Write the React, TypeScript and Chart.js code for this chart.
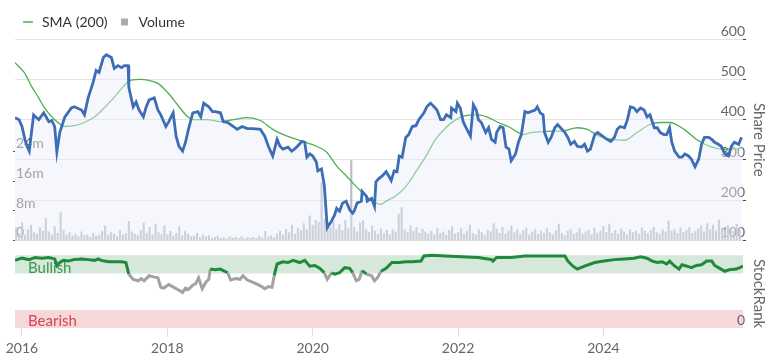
import { useEffect, useRef } from 'react';
import { Chart, registerables } from 'chart.js';

Chart.register(...registerables);
Chart.defaults.font.family = 'Lato';

const X_MIN = 2015.904;
const X_MAX = 2025.92;
const YEAR_TICKS = [2016, 2018, 2020, 2022, 2024];
const PRICE_TICKS = [100, 200, 300, 400, 500, 600];
const VOLUME_TICKS = [0, 8, 16, 24];
const RANK_TICKS = [0];

const priceDates = [
  2015.904, 2015.96, 2016.0, 2016.04, 2016.07, 2016.10, 2016.16, 2016.23, 2016.30, 2016.37,
  2016.41, 2016.45, 2016.48, 2016.52, 2016.59, 2016.68, 2016.72, 2016.82, 2016.86, 2016.91,
  2016.98, 2017.02, 2017.06, 2017.12, 2017.16, 2017.23, 2017.27, 2017.32, 2017.37, 2017.41,
  2017.46, 2017.47, 2017.53, 2017.57, 2017.61, 2017.67, 2017.71, 2017.75, 2017.82, 2017.87,
  2017.91, 2017.98, 2018.02, 2018.08, 2018.12, 2018.16, 2018.21, 2018.25, 2018.29, 2018.35,
  2018.42, 2018.46, 2018.50, 2018.57, 2018.62, 2018.66, 2018.73, 2018.77, 2018.83, 2018.91,
  2018.96, 2019.03, 2019.10, 2019.18, 2019.28, 2019.34, 2019.39, 2019.45, 2019.51, 2019.55,
  2019.59, 2019.66, 2019.71, 2019.75, 2019.79, 2019.85, 2019.89, 2019.92, 2019.96, 2020.00,
  2020.05, 2020.07, 2020.12, 2020.16, 2020.20, 2020.26, 2020.30, 2020.33, 2020.37, 2020.41,
  2020.46, 2020.51, 2020.55, 2020.57, 2020.61, 2020.67, 2020.68, 2020.74, 2020.75, 2020.81,
  2020.85, 2020.87, 2020.91, 2020.96, 2021.01, 2021.05, 2021.08, 2021.12, 2021.16, 2021.19,
  2021.23, 2021.28, 2021.32, 2021.37, 2021.42, 2021.46, 2021.53, 2021.57, 2021.62, 2021.67,
  2021.71, 2021.76, 2021.80, 2021.84, 2021.90, 2021.91, 2021.97, 2021.99, 2022.03, 2022.07,
  2022.11, 2022.17, 2022.21, 2022.25, 2022.28, 2022.32, 2022.38, 2022.42, 2022.46, 2022.51,
  2022.53, 2022.58, 2022.62, 2022.66, 2022.70, 2022.73, 2022.79, 2022.83, 2022.87, 2022.92,
  2022.96, 2023.00, 2023.06, 2023.09, 2023.13, 2023.17, 2023.19, 2023.24, 2023.28, 2023.33,
  2023.37, 2023.41, 2023.47, 2023.51, 2023.55, 2023.60, 2023.64, 2023.70, 2023.74, 2023.78,
  2023.82, 2023.88, 2023.92, 2023.96, 2024.01, 2024.05, 2024.10, 2024.15, 2024.19, 2024.23,
  2024.29, 2024.33, 2024.37, 2024.42, 2024.46, 2024.51, 2024.56, 2024.60, 2024.64, 2024.70,
  2024.74, 2024.78, 2024.83, 2024.87, 2024.91, 2024.94, 2024.98, 2025.04, 2025.08, 2025.12,
  2025.17, 2025.21, 2025.26, 2025.31, 2025.35, 2025.39, 2025.45, 2025.49, 2025.53, 2025.58,
  2025.62, 2025.67, 2025.72, 2025.76, 2025.80, 2025.86, 2025.90,
];
const priceValues = [
  405, 400, 383, 351, 334, 322, 412, 400, 417, 395,
  398, 383, 320, 368, 407, 429, 432, 424, 412, 454,
  493, 522, 517, 554, 561, 554, 527, 534, 529, 534,
  534, 480, 432, 444, 424, 407, 432, 449, 454, 424,
  412, 383, 395, 417, 359, 334, 322, 344, 376, 417,
  420, 407, 441, 432, 420, 420, 417, 395, 393, 383,
  376, 383, 378, 378, 376, 359, 334, 310, 351, 334,
  327, 332, 322, 327, 334, 346, 344, 307, 315, 310,
  295, 273, 278, 237, 132, 149, 163, 180, 173, 193,
  198, 176, 168, 173, 193, 198, 222, 210, 198, 205,
  185, 246, 254, 261, 271, 259, 249, 273, 271, 310,
  307, 356, 363, 383, 385, 400, 417, 432, 441, 432,
  424, 400, 400, 412, 405, 429, 420, 441, 429, 395,
  380, 359, 437, 424, 400, 393, 368, 380, 351, 344,
  368, 383, 380, 332, 327, 298, 315, 344, 363, 420,
  417, 420, 424, 432, 417, 412, 368, 344, 356, 380,
  388, 380, 368, 356, 339, 346, 334, 332, 339, 322,
  327, 363, 368, 363, 356, 351, 346, 356, 376, 383,
  380, 400, 432, 429, 420, 429, 424, 407, 412, 380,
  380, 368, 363, 363, 380, 344, 322, 307, 307, 315,
  310, 302, 283, 302, 339, 356, 356, 351, 344, 339,
  334, 315, 310, 334, 344, 339, 356,
];

const smaDates = [
  2015.904, 2016.03, 2016.14, 2016.23, 2016.31, 2016.45, 2016.59, 2016.72, 2016.86, 2017.00,
  2017.13, 2017.27, 2017.41, 2017.50, 2017.64, 2017.73, 2017.87, 2018.01, 2018.14, 2018.28,
  2018.36, 2018.55, 2018.73, 2018.91, 2019.10, 2019.28, 2019.45, 2019.65, 2019.86, 2020.05,
  2020.19, 2020.33, 2020.46, 2020.60, 2020.74, 2020.85, 2020.94, 2021.01, 2021.15, 2021.28,
  2021.42, 2021.56, 2021.69, 2021.83, 2021.97, 2022.10, 2022.28, 2022.42, 2022.55, 2022.69,
  2022.83, 2022.89, 2023.00, 2023.24, 2023.47, 2023.64, 2023.78, 2023.92, 2024.10, 2024.29,
  2024.46, 2024.64, 2024.78, 2024.91, 2025.11, 2025.28, 2025.46, 2025.65, 2025.83, 2025.90,
];
const smaValues = [
  541, 517, 480, 454, 429, 400, 383, 385, 393, 407,
  429, 456, 485, 498, 500, 498, 490, 466, 437, 407,
  400, 400, 395, 400, 405, 398, 376, 359, 346, 334,
  320, 285, 261, 234, 210, 195, 190, 198, 212, 234,
  271, 310, 351, 380, 400, 410, 412, 405, 393, 383,
  368, 363, 368, 371, 373, 380, 376, 361, 351, 349,
  368, 388, 393, 393, 376, 351, 334, 327, 327, 332,
];

const rankDates = [
  2015.904, 2016.00, 2016.10, 2016.18, 2016.27, 2016.37, 2016.45, 2016.48, 2016.52, 2016.57,
  2016.64, 2016.71, 2016.82, 2016.91, 2017.00, 2017.05, 2017.09, 2017.19, 2017.27, 2017.37,
  2017.43, 2017.47, 2017.53, 2017.60, 2017.64, 2017.68, 2017.75, 2017.82, 2017.87, 2017.91,
  2017.95, 2018.02, 2018.09, 2018.16, 2018.21, 2018.25, 2018.29, 2018.35, 2018.39, 2018.43,
  2018.48, 2018.53, 2018.57, 2018.59, 2018.66, 2018.73, 2018.77, 2018.83, 2018.87, 2018.94,
  2019.00, 2019.04, 2019.10, 2019.17, 2019.24, 2019.30, 2019.34, 2019.39, 2019.44, 2019.47,
  2019.51, 2019.59, 2019.66, 2019.73, 2019.82, 2019.89, 2019.96, 2020.03, 2020.10, 2020.16,
  2020.20, 2020.26, 2020.30, 2020.37, 2020.44, 2020.51, 2020.55, 2020.60, 2020.64, 2020.68,
  2020.74, 2020.81, 2020.85, 2020.89, 2020.94, 2021.01, 2021.09, 2021.19, 2021.28, 2021.37,
  2021.49, 2021.53, 2021.64, 2021.83, 2022.05, 2022.28, 2022.46, 2022.48, 2022.53, 2022.73,
  2022.92, 2023.19, 2023.47, 2023.51, 2023.58, 2023.64, 2023.74, 2023.88, 2024.01, 2024.15,
  2024.29, 2024.42, 2024.51, 2024.60, 2024.67, 2024.74, 2024.81, 2024.87, 2024.91, 2024.97,
  2025.04, 2025.08, 2025.15, 2025.21, 2025.28, 2025.35, 2025.42, 2025.49, 2025.53, 2025.60,
  2025.67, 2025.73, 2025.83, 2025.92,
];
const rankValues = [
  93, 96, 94, 97, 96, 97, 95, 86, 90, 93,
  92, 94, 95, 94, 93, 95, 93, 91, 91, 91,
  90, 74, 67, 65, 68, 65, 72, 70, 69, 56,
  55, 60, 56, 52, 49, 55, 53, 59, 61, 69,
  54, 63, 67, 81, 80, 81, 79, 76, 66, 68,
  67, 72, 66, 63, 60, 57, 54, 57, 56, 72,
  88, 91, 90, 93, 90, 93, 85, 86, 82, 76,
  67, 76, 74, 76, 83, 82, 76, 65, 67, 79,
  74, 72, 65, 69, 78, 82, 90, 90, 91, 91,
  92, 99, 100, 99, 98, 97, 94, 92, 97, 97,
  99, 99, 99, 92, 85, 81, 85, 90, 92, 94,
  95, 96, 98, 96, 92, 90, 91, 88, 92, 86,
  81, 87, 85, 83, 86, 87, 92, 92, 86, 82,
  78, 80, 81, 85,
];

// volume in millions, roughly every 2 weeks from the start of the chart
const VOLUME_START = 2015.92;
const VOLUME_STEP = 0.0408;
const volumeValues = [
  3.5, 2.0, 4.8, 1.5, 3.0, 4.2, 2.2, 1.8, 3.5, 2.6,
  6.0, 2.4, 1.6, 3.8, 2.0, 7.5, 2.8, 1.5, 2.2, 1.2,
  1.8, 1.0, 2.4, 1.4, 1.6, 0.9, 2.0, 1.2, 1.5, 2.6,
  4.0, 1.5, 2.2, 1.8, 1.0, 2.8, 1.6, 2.0, 5.2, 2.4,
  1.8, 1.4, 2.8, 4.8, 2.0, 3.6, 1.5, 4.5, 2.2, 1.7,
  4.0, 1.6, 2.5, 1.2, 2.0, 3.8, 1.4, 2.6, 1.8, 1.0,
  1.2, 2.0, 0.8, 1.6, 1.0, 1.4, 0.7, 0.9, 1.2, 0.6,
  0.8, 0.5, 1.0, 0.7, 0.9, 0.6, 1.1, 0.5, 0.8, 0.6,
  0.9, 0.6, 1.2, 0.7, 2.5, 1.0, 1.4, 0.8, 1.8, 2.6,
  1.6, 3.0, 2.2, 4.2, 1.8, 3.4, 2.8, 4.6, 3.0, 6.7,
  4.2, 5.5, 5.0, 15.7, 5.8, 4.6, 3.5, 5.2, 3.0, 4.4,
  2.8, 5.5, 3.2, 21.6, 3.6, 2.4, 4.8, 5.4, 3.0, 2.2,
  4.0, 2.6, 1.8, 3.2, 2.0, 2.8, 1.6, 3.0, 2.4, 7.2,
  9.0, 3.0, 2.2, 4.0, 2.6, 3.6, 2.0, 3.2, 2.4, 1.8,
  2.6, 1.6, 3.4, 2.0, 2.4, 1.5, 2.8, 3.8, 1.8, 2.2,
  3.2, 1.8, 2.6, 4.2, 2.0, 1.6, 3.0, 2.2, 1.4, 2.8,
  2.4, 4.6, 3.2, 2.0, 3.6, 1.8, 2.6, 4.0, 2.2, 3.0,
  1.8, 2.8, 3.4, 1.6, 2.4, 3.0, 1.8, 2.6, 2.0, 3.2,
  2.2, 1.6, 2.8, 4.5, 2.0, 1.4, 2.6, 3.0, 1.8, 2.2,
  3.2, 1.8, 2.4, 2.8, 1.6, 3.4, 2.0, 2.6, 3.8, 2.2,
  4.5, 2.0, 2.8, 1.8, 3.2, 2.4, 1.6, 3.0, 2.2, 2.6,
  1.8, 3.4, 2.6, 2.0, 2.8, 3.6, 2.2, 1.8, 3.0, 2.4,
  5.3, 2.6, 3.0, 2.0, 3.4, 2.2, 2.8, 3.6, 2.0, 2.6,
  3.2, 4.0, 2.4, 4.6, 3.0, 4.2, 2.6, 5.6, 3.4, 2.8,
  4.0, 3.2, 2.6, 4.4, 3.0,
];

const BULL_MIN = 75;
const BEAR_MAX = 25;

const PRICE_COLOR = '#3c6db5';
const SMA_COLOR = '#4caf50';
const VOLUME_COLOR = 'rgba(170,170,178,0.8)';
const RANK_GREEN = '#1f8a3c';
const RANK_GREY = '#a2a2a2';
const BULL_BAND = '#d5e8da';
const BEAR_BAND = '#f6d7da';
const BULL_TEXT = '#3a9a4e';
const BEAR_TEXT = '#d8454f';
const AXIS_TEXT = '#666';

const bandLabels = {
  id: 'bandLabels',
  afterDatasetDraw(chart: any, args: any) {
    if (chart.data.datasets[args.index].label !== 'bearBand') return;
    const { ctx, chartArea, scales } = chart;
    const r = scales.rank;
    ctx.save();
    ctx.font = '15px Lato';
    ctx.textBaseline = 'middle';
    ctx.textAlign = 'left';
    ctx.fillStyle = BULL_TEXT;
    ctx.fillText('Bullish', chartArea.left + 13, r.getPixelForValue(82));
    ctx.fillStyle = BEAR_TEXT;
    ctx.fillText('Bearish', chartArea.left + 13, r.getPixelForValue(10));
    ctx.restore();
  },
};

export default function App() {
  const ref = useRef<HTMLCanvasElement | null>(null);

  useEffect(() => {
    if (!ref.current) return;
    const pricePts = priceDates.map((d, i) => ({ x: d, y: priceValues[i] }));
    const smaPts = smaDates.map((d, i) => ({ x: d, y: smaValues[i] }));
    const rankPts = rankDates.map((d, i) => ({ x: d, y: rankValues[i] }));
    const volPts = volumeValues.map((v, i) => ({ x: VOLUME_START + i * VOLUME_STEP, y: v }));

    const chart = new Chart(ref.current, {
      type: 'line',
      data: {
        datasets: [
          {
            label: 'Share Price',
            data: pricePts,
            yAxisID: 'price',
            borderColor: PRICE_COLOR,
            borderWidth: 2.8,
            pointRadius: 0,
            tension: 0,
            fill: 'start',
            backgroundColor: 'rgba(232,238,248,0.45)',
            order: 0,
          },
          {
            label: 'SMA (200)',
            data: smaPts,
            yAxisID: 'price',
            borderColor: SMA_COLOR,
            borderWidth: 1.3,
            pointRadius: 0,
            cubicInterpolationMode: 'monotone',
            fill: false,
            order: 1,
          },
          {
            type: 'bar',
            label: 'Volume',
            data: volPts,
            yAxisID: 'vol',
            backgroundColor: VOLUME_COLOR,
            barThickness: 1.5,
            order: 3,
          } as any,
          {
            label: 'StockRank',
            data: rankPts,
            yAxisID: 'rank',
            borderWidth: 3,
            pointRadius: 0,
            fill: false,
            borderColor: RANK_GREEN,
            segment: {
              borderColor: (c: any) =>
                (c.p0.parsed.y + c.p1.parsed.y) / 2 >= BULL_MIN ? RANK_GREEN : RANK_GREY,
            },
            order: 2,
          },
          {
            label: 'bullBand',
            data: [{ x: X_MIN, y: 100 }, { x: X_MAX, y: 100 }],
            yAxisID: 'rank',
            borderWidth: 0,
            pointRadius: 0,
            fill: { value: BULL_MIN },
            backgroundColor: BULL_BAND,
            order: 10,
          },
          {
            label: 'bearBand',
            data: [{ x: X_MIN, y: BEAR_MAX }, { x: X_MAX, y: BEAR_MAX }],
            yAxisID: 'rank',
            borderWidth: 0,
            pointRadius: 0,
            fill: { value: 0 },
            backgroundColor: BEAR_BAND,
            order: 9,
          },
        ],
      },
      options: {
        animation: false,
        responsive: true,
        maintainAspectRatio: false,
        layout: { padding: { left: 11, right: 0, top: 5, bottom: 0 } },
        plugins: {
          tooltip: { enabled: false },
          legend: {
            position: 'top',
            align: 'start',
            labels: {
              usePointStyle: true,
              boxWidth: 14,
              boxHeight: 7,
              padding: 10,
              color: '#333',
              font: { size: 14 },
              generateLabels: () => [
                {
                  text: 'SMA (200)',
                  pointStyle: 'line',
                  strokeStyle: SMA_COLOR,
                  fillStyle: SMA_COLOR,
                  lineWidth: 1.5,
                  fontColor: '#333',
                  hidden: false,
                  datasetIndex: 1,
                },
                {
                  text: 'Volume',
                  pointStyle: 'rect',
                  strokeStyle: '#aaa',
                  fillStyle: '#aaa',
                  lineWidth: 0,
                  fontColor: '#333',
                  hidden: false,
                  datasetIndex: 2,
                },
              ],
            },
          },
        },
        scales: {
          x: {
            type: 'linear',
            min: X_MIN,
            max: X_MAX,
            offset: false,
            afterBuildTicks: (axis: any) => {
              axis.ticks = YEAR_TICKS.map((v) => ({ value: v }));
            },
            ticks: {
              callback: (v: any) => String(v),
              color: AXIS_TEXT,
              font: { size: 14 },
              padding: 4,
              maxRotation: 0,
              autoSkip: false,
            },
            grid: { drawOnChartArea: false, tickLength: 8, color: '#dedede', offset: false },
            border: { display: false },
          },
          volSpacer: {
            type: 'linear',
            position: 'left',
            stack: 'left',
            stackWeight: 89,
            display: false,
          },
          vol: {
            type: 'linear',
            position: 'left',
            stack: 'left',
            stackWeight: 205,
            min: 0,
            max: 54.4,
            afterBuildTicks: (axis: any) => {
              axis.ticks = VOLUME_TICKS.map((v) => ({ value: v }));
            },
            ticks: {
              mirror: true,
              padding: 1,
              labelOffset: -8,
              color: AXIS_TEXT,
              font: { size: 14 },
              callback: (v: any) => (v === 0 ? '0' : v + 'm'),
            },
            grid: { drawOnChartArea: false, tickLength: 2, color: '#555' },
            border: { display: false },
          },
          price: {
            type: 'linear',
            position: 'right',
            stack: 'right',
            stackWeight: 205,
            min: 100,
            max: 600,
            afterBuildTicks: (axis: any) => {
              axis.ticks = PRICE_TICKS.map((v) => ({ value: v }));
            },
            ticks: {
              mirror: true,
              padding: 2,
              labelOffset: -8,
              color: AXIS_TEXT,
              font: { size: 14 },
              callback: (v: any) => String(v),
            },
            grid: { color: '#e3e3e3', tickLength: 3, tickColor: '#444' },
            border: { display: false },
            title: {
              display: true,
              text: 'Share Price',
              color: AXIS_TEXT,
              font: { size: 15 },
              padding: 0,
            },
          },
          rank: {
            type: 'linear',
            position: 'right',
            stack: 'right',
            stackWeight: 89,
            min: 0,
            max: 120,
            afterBuildTicks: (axis: any) => {
              axis.ticks = RANK_TICKS.map((v) => ({ value: v }));
            },
            ticks: {
              mirror: true,
              padding: 2,
              labelOffset: -8,
              z: 1,
              color: AXIS_TEXT,
              font: { size: 14 },
              callback: (v: any) => String(v),
            },
            grid: {
              display: true,
              drawOnChartArea: false,
              drawTicks: true,
              tickLength: 3,
              tickColor: 'rgba(0,0,0,0)',
              color: 'rgba(0,0,0,0)',
            },
            border: { display: false },
            title: {
              display: true,
              text: 'StockRank',
              color: AXIS_TEXT,
              font: { size: 15 },
              padding: 0,
              align: 'start',
            },
          },
        },
      } as any,
      plugins: [bandLabels],
    });
    return () => chart.destroy();
  }, []);

  return (
    <div style={{ position: 'absolute', left: 0, top: 0, width: 768, height: 361, background: '#fff' }}>
      <canvas ref={ref} />
    </div>
  );
}
